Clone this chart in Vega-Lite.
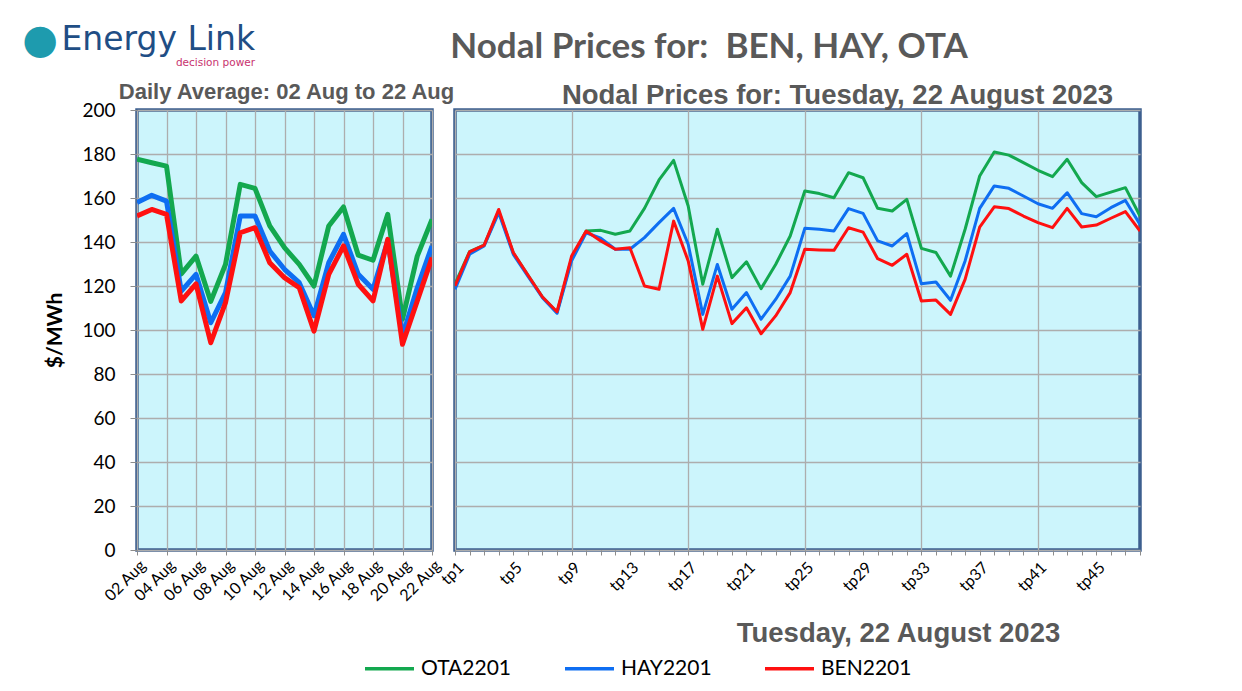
{
  "$schema": "https://vega.github.io/schema/vega-lite/v6.json",
  "background": "white",
  "padding": {"left": 22, "top": 19, "right": 5, "bottom": 5},
  "title": {
    "text": "●",
    "anchor": "end",
    "frame": "group",
    "font": "DejaVu Sans",
    "fontSize": 41,
    "fontWeight": "normal",
    "color": "#1E9BAE",
    "dx": -79,
    "dy": 42
  },
  "datasets": {
    "daily": [
      {"date": "02 Aug", "OTA2201": 177.6, "HAY2201": 157.9, "BEN2201": 151.8},
      {"date": "03 Aug", "OTA2201": 176.0, "HAY2201": 161.2, "BEN2201": 154.8},
      {"date": "04 Aug", "OTA2201": 174.5, "HAY2201": 158.6, "BEN2201": 152.6},
      {"date": "05 Aug", "OTA2201": 125.5, "HAY2201": 117.7, "BEN2201": 113.2},
      {"date": "06 Aug", "OTA2201": 133.6, "HAY2201": 125.3, "BEN2201": 121.0},
      {"date": "07 Aug", "OTA2201": 113.0, "HAY2201": 103.3, "BEN2201": 94.2},
      {"date": "08 Aug", "OTA2201": 129.8, "HAY2201": 117.0, "BEN2201": 112.4},
      {"date": "09 Aug", "OTA2201": 166.2, "HAY2201": 151.8, "BEN2201": 144.2},
      {"date": "10 Aug", "OTA2201": 164.4, "HAY2201": 151.8, "BEN2201": 146.5},
      {"date": "11 Aug", "OTA2201": 147.3, "HAY2201": 135.9, "BEN2201": 130.6},
      {"date": "12 Aug", "OTA2201": 137.4, "HAY2201": 127.6, "BEN2201": 123.8},
      {"date": "13 Aug", "OTA2201": 129.8, "HAY2201": 121.5, "BEN2201": 119.2},
      {"date": "14 Aug", "OTA2201": 120.0, "HAY2201": 106.5, "BEN2201": 99.5},
      {"date": "15 Aug", "OTA2201": 147.3, "HAY2201": 130.6, "BEN2201": 125.3},
      {"date": "16 Aug", "OTA2201": 155.9, "HAY2201": 143.5, "BEN2201": 138.2},
      {"date": "17 Aug", "OTA2201": 134.0, "HAY2201": 125.3, "BEN2201": 120.8},
      {"date": "18 Aug", "OTA2201": 131.7, "HAY2201": 118.5, "BEN2201": 113.2},
      {"date": "19 Aug", "OTA2201": 152.6, "HAY2201": 140.5, "BEN2201": 141.2},
      {"date": "20 Aug", "OTA2201": 104.9, "HAY2201": 97.3, "BEN2201": 93.5},
      {"date": "21 Aug", "OTA2201": 133.6, "HAY2201": 119.2, "BEN2201": 113.2},
      {"date": "22 Aug", "OTA2201": 150.3, "HAY2201": 138.2, "BEN2201": 132.9}
    ],
    "periods": [
      {"tp": 1, "OTA2201": 121.0, "HAY2201": 118.5, "BEN2201": 120.0},
      {"tp": 2, "OTA2201": 135.6, "HAY2201": 134.4, "BEN2201": 135.5},
      {"tp": 3, "OTA2201": 138.6, "HAY2201": 138.2, "BEN2201": 138.6},
      {"tp": 4, "OTA2201": 154.0, "HAY2201": 153.3, "BEN2201": 154.8},
      {"tp": 5, "OTA2201": 135.0, "HAY2201": 134.4, "BEN2201": 135.2},
      {"tp": 6, "OTA2201": 125.0, "HAY2201": 124.5, "BEN2201": 125.0},
      {"tp": 7, "OTA2201": 115.0, "HAY2201": 114.7, "BEN2201": 115.0},
      {"tp": 8, "OTA2201": 108.0, "HAY2201": 107.6, "BEN2201": 108.3},
      {"tp": 9, "OTA2201": 132.6, "HAY2201": 131.4, "BEN2201": 133.6},
      {"tp": 10, "OTA2201": 145.0, "HAY2201": 144.2, "BEN2201": 145.0},
      {"tp": 11, "OTA2201": 145.3, "HAY2201": 141.7, "BEN2201": 140.5},
      {"tp": 12, "OTA2201": 143.5, "HAY2201": 136.7, "BEN2201": 136.7},
      {"tp": 13, "OTA2201": 145.0, "HAY2201": 136.7, "BEN2201": 137.4},
      {"tp": 14, "OTA2201": 155.3, "HAY2201": 142.0, "BEN2201": 120.0},
      {"tp": 15, "OTA2201": 168.2, "HAY2201": 148.8, "BEN2201": 118.5},
      {"tp": 16, "OTA2201": 177.1, "HAY2201": 155.3, "BEN2201": 149.5},
      {"tp": 17, "OTA2201": 156.4, "HAY2201": 139.0, "BEN2201": 131.4},
      {"tp": 18, "OTA2201": 120.8, "HAY2201": 107.1, "BEN2201": 100.3},
      {"tp": 19, "OTA2201": 145.8, "HAY2201": 129.8, "BEN2201": 124.5},
      {"tp": 20, "OTA2201": 123.8, "HAY2201": 109.4, "BEN2201": 102.9},
      {"tp": 21, "OTA2201": 131.0, "HAY2201": 117.0, "BEN2201": 110.1},
      {"tp": 22, "OTA2201": 118.8, "HAY2201": 104.9, "BEN2201": 98.3},
      {"tp": 23, "OTA2201": 129.8, "HAY2201": 113.9, "BEN2201": 106.4},
      {"tp": 24, "OTA2201": 142.7, "HAY2201": 124.5, "BEN2201": 117.0},
      {"tp": 25, "OTA2201": 163.2, "HAY2201": 146.2, "BEN2201": 136.7},
      {"tp": 26, "OTA2201": 162.0, "HAY2201": 145.8, "BEN2201": 136.4},
      {"tp": 27, "OTA2201": 160.1, "HAY2201": 145.0, "BEN2201": 136.2},
      {"tp": 28, "OTA2201": 171.5, "HAY2201": 155.2, "BEN2201": 146.5},
      {"tp": 29, "OTA2201": 169.2, "HAY2201": 153.0, "BEN2201": 144.5},
      {"tp": 30, "OTA2201": 155.3, "HAY2201": 140.5, "BEN2201": 132.4},
      {"tp": 31, "OTA2201": 154.1, "HAY2201": 138.2, "BEN2201": 129.4},
      {"tp": 32, "OTA2201": 159.4, "HAY2201": 143.8, "BEN2201": 134.4},
      {"tp": 33, "OTA2201": 137.1, "HAY2201": 121.0, "BEN2201": 113.2},
      {"tp": 34, "OTA2201": 135.2, "HAY2201": 121.8, "BEN2201": 113.6},
      {"tp": 35, "OTA2201": 124.5, "HAY2201": 113.5, "BEN2201": 107.1},
      {"tp": 36, "OTA2201": 145.8, "HAY2201": 131.4, "BEN2201": 123.0},
      {"tp": 37, "OTA2201": 170.0, "HAY2201": 155.3, "BEN2201": 146.8},
      {"tp": 38, "OTA2201": 180.9, "HAY2201": 165.5, "BEN2201": 156.0},
      {"tp": 39, "OTA2201": 179.5, "HAY2201": 164.4, "BEN2201": 155.2},
      {"tp": 40, "OTA2201": 176.1, "HAY2201": 160.9, "BEN2201": 151.8},
      {"tp": 41, "OTA2201": 172.6, "HAY2201": 157.4, "BEN2201": 148.8},
      {"tp": 42, "OTA2201": 169.7, "HAY2201": 155.3, "BEN2201": 146.5},
      {"tp": 43, "OTA2201": 177.6, "HAY2201": 162.4, "BEN2201": 155.3},
      {"tp": 44, "OTA2201": 167.0, "HAY2201": 152.9, "BEN2201": 146.8},
      {"tp": 45, "OTA2201": 160.6, "HAY2201": 151.5, "BEN2201": 147.7},
      {"tp": 46, "OTA2201": 162.7, "HAY2201": 155.6, "BEN2201": 150.8},
      {"tp": 47, "OTA2201": 164.7, "HAY2201": 158.9, "BEN2201": 153.8},
      {"tp": 48, "OTA2201": 151.8, "HAY2201": 148.0, "BEN2201": 145.0}
    ]
  },
  "vconcat": [
    {
      "title": {
        "text": "Energy Link",
        "subtitle": "decision power",
        "anchor": "end",
        "frame": "group",
        "font": "DejaVu Sans",
        "fontSize": 33,
        "fontWeight": "normal",
        "color": "#1F4E85",
        "subtitleFont": "DejaVu Sans",
        "subtitleFontSize": 10.5,
        "subtitleColor": "#C8326E",
        "subtitlePadding": 1,
        "dx": 118,
        "dy": 42
      },
      "vconcat": [
        {
          "title": {
            "text": "Nodal Prices for:\u00a0 BEN, HAY, OTA",
            "anchor": "middle",
            "frame": "group",
            "font": "Lato",
            "fontSize": 35,
            "fontWeight": "bold",
            "color": "#595959",
            "offset": 14,
            "dx": 572
          },
          "bounds": "flush",
          "spacing": 23,
          "resolve": {"scale": {"color": "shared"}},
          "hconcat": [
            {
              "width": 295,
              "height": 440,
              "title": {
                "text": "Daily Average: 02 Aug to 22 Aug",
                "font": "Liberation Sans",
                "fontSize": 22,
                "fontWeight": "bold",
                "color": "#595959",
                "offset": -3,
                "dx": 2
              },
              "data": {"name": "daily"},
              "transform": [{"fold": ["OTA2201", "HAY2201", "BEN2201"], "as": ["node", "price"]}],
              "mark": {"type": "line", "strokeWidth": 5, "strokeJoin": "round", "clip": true},
              "encoding": {
                "x": {
                  "field": "date",
                  "type": "ordinal",
                  "scale": {"type": "point", "padding": 0},
                  "axis": {
                    "values": ["02 Aug", "04 Aug", "06 Aug", "08 Aug", "10 Aug", "12 Aug", "14 Aug", "16 Aug", "18 Aug", "20 Aug", "22 Aug"],
                    "labelAngle": -45,
                    "labelFontSize": 16,
                    "labelOverlap": false,
                    "title": null,
                    "grid": true,
                    "tickSize": 5
                  }
                },
                "y": {
                  "field": "price",
                  "type": "quantitative",
                  "scale": {"domain": [0, 200]},
                  "axis": {
                    "values": [0, 20, 40, 60, 80, 100, 120, 140, 160, 180, 200],
                    "title": "$/MWh",
                    "titleFont": "Lato",
                    "titleFontSize": 21,
                    "titleFontWeight": "bold",
                    "titleColor": "black",
                    "titlePadding": 16,
                    "labelFontSize": 19,
                    "labelPadding": 15,
                    "tickSize": 7,
                    "grid": true
                  }
                },
                "color": {
                  "field": "node",
                  "type": "nominal",
                  "scale": {"domain": ["OTA2201", "HAY2201", "BEN2201"], "range": ["#13A84F", "#0E6EF2", "#FF1010"]},
                  "legend": {
                    "orient": "none",
                    "direction": "horizontal",
                    "legendX": 226,
                    "legendY": 532,
                    "title": null,
                    "symbolType": "stroke",
                    "symbolSize": 2400,
                    "symbolStrokeWidth": 3.5,
                    "labelFont": "Lato",
                    "labelFontSize": 21,
                    "labelColor": "black",
                    "labelOffset": 5,
                    "columnPadding": 46
                  }
                }
              }
            },
            {
              "width": 685,
              "height": 440,
              "title": {
                "text": "Nodal Prices for: Tuesday, 22 August 2023",
                "font": "Liberation Sans",
                "fontSize": 27.5,
                "fontWeight": "bold",
                "color": "#595959",
                "offset": 1,
                "dx": 40
              },
              "data": {"name": "periods"},
              "transform": [{"fold": ["OTA2201", "HAY2201", "BEN2201"], "as": ["node", "price"]}],
              "mark": {"type": "line", "strokeWidth": 3, "strokeJoin": "round", "clip": true},
              "encoding": {
                "x": {
                  "field": "tp",
                  "type": "quantitative",
                  "scale": {"domain": [1, 48], "nice": false, "zero": false},
                  "axis": {
                    "values": [1,2,3,4,5,6,7,8,9,10,11,12,13,14,15,16,17,18,19,20,21,22,23,24,25,26,27,28,29,30,31,32,33,34,35,36,37,38,39,40,41,42,43,44,45,46,47,48],
                    "labelExpr": "(datum.value - 1) % 4 == 0 ? 'tp' + datum.value : ''",
                    "labelAngle": -45,
                    "labelFontSize": 16,
                    "labelOverlap": false,
                    "labelPadding": 4,
                    "tickSize": 5,
                    "grid": true,
                    "gridOpacity": {"condition": {"test": "(datum.value - 1) % 8 == 0", "value": 1}, "value": 0},
                    "title": "Tuesday, 22 August 2023",
                    "titleFont": "Liberation Sans",
                    "titleFontSize": 27.5,
                    "titleFontWeight": "bold",
                    "titleColor": "#595959",
                    "titleX": 443,
                    "titleY": 91,
                    "titleBaseline": "alphabetic"
                  }
                },
                "y": {
                  "field": "price",
                  "type": "quantitative",
                  "scale": {"domain": [0, 200]},
                  "axis": {
                    "values": [0, 20, 40, 60, 80, 100, 120, 140, 160, 180, 200],
                    "labels": false,
                    "ticks": false,
                    "title": null,
                    "grid": true,
                    "minExtent": 0
                  }
                },
                "color": {
                  "field": "node",
                  "type": "nominal",
                  "scale": {"domain": ["OTA2201", "HAY2201", "BEN2201"], "range": ["#13A84F", "#0E6EF2", "#FF1010"]},
                  "legend": null
                }
              }
            }
          ]
        }
      ]
    }
  ],
  "config": {
    "view": {"fill": "#CCF5FC", "stroke": "#3D5F8F", "strokeWidth": 3.5},
    "axis": {
      "domain": false,
      "gridColor": "#ADADAD",
      "gridWidth": 1.3,
      "tickColor": "#8C8C8C",
      "labelColor": "black",
      "labelFont": "Lato"
    }
  }
}
